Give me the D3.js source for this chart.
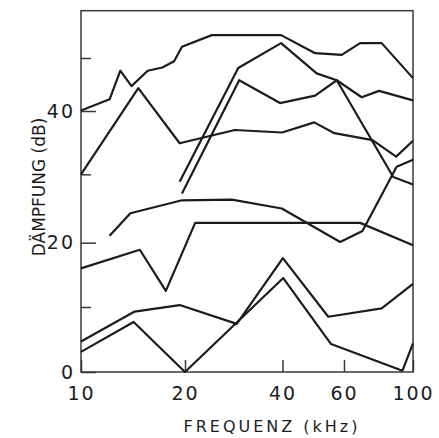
<!DOCTYPE html>
<html>
<head>
<meta charset="utf-8">
<script src="https://cdn.jsdelivr.net/npm/d3@7"></script>
<style>
    body { margin: 0; background: #fff; }
</style>
</head>
<body>
<script>
// #region DATA
// each curve: [frequency (kHz), attenuation (dB)]
var curveA = [[10, 40.1], [12.1, 42.2], [13, 47.6], [14, 44.7], [15.6, 47.6], [17.2, 48.2], [18.6, 49.4],
    [19.6, 52.1], [24.2, 54.3], [39.6, 54.3], [49.6, 50.9], [59.1, 50.6], [67.6, 52.8], [79.3, 52.8], [100, 46.2]];
var curveB = [[10, 30], [14.65, 44.3], [19.3, 34.9], [28.5, 37], [39.9, 36.6], [49.3, 38.2], [56.3, 36.5],
    [74.1, 35.4], [88.3, 32.8], [100, 35.3]];
var curveC1 = [[19.3, 28.9], [29.2, 48.1], [39.6, 52.8], [50.1, 47.1], [57.2, 45.8], [68.4, 42.6], [77.8, 43.8], [100, 42]];
var curveC2 = [[19.6, 27.2], [29.4, 45.8], [39.3, 41.5], [49.6, 42.9], [57.2, 45.8], [86.4, 29.6], [100, 28.5]];
var curveD = [[10, 16], [14.8, 18.9], [17.6, 12.5], [21.5, 22.9], [67.6, 22.9], [100, 19.6]];
var curveE = [[12.1, 21], [13.9, 24.3], [19.6, 26.2], [27.9, 26.3], [39.8, 25], [58.5, 20.1], [68.8, 21.7],
    [88.6, 31.2], [100, 32.3]];
var curveF = [[10, 4.7], [14.3, 9.3], [19.3, 10.3], [28.9, 7.4], [40.1, 17.6], [54.1, 8.5], [79.3, 9.8], [100, 13.6]];
var curveG = [[10, 3.1], [14.2, 7.7], [20, 0], [40.2, 14.5], [55.1, 4.3], [92.5, 0.2], [100, 4.4]];

var curves = [curveA, curveB, curveC1, curveC2, curveD, curveE, curveF, curveG];

var xTicks = [10, 20, 40, 60, 100];
var yLabelTicks = [0, 20, 40];
var yMinorTicks = [10, 30, 50];
// #endregion

// #region SETUP
var svg = d3.select("body")
    .append("svg")
    .attr("width", 439)
    .attr("height", 438);

// the scan is slightly stretched, so the scales follow its printed tick positions
var x = d3.scaleLog()
    .domain([10, 20, 40, 60, 100])
    .range([81, 185, 282.5, 344, 413]);

var y = d3.scaleLinear()
    .domain([0, 10, 20, 30, 40, 50, 58.9])
    .range([372, 307, 242.7, 174.3, 111, 58, 10.7]);

var fontFam = "'DejaVu Sans', sans-serif";
var ink = "#1c1c1c";
// #endregion

// #region AXES
// frame
svg.append("rect")
    .attr("x", x(10))
    .attr("y", y(58.9))
    .attr("width", x(100) - x(10))
    .attr("height", y(0) - y(58.9))
    .attr("fill", "none")
    .attr("stroke", "#3a3a3a")
    .attr("stroke-width", 1.5);

var xAxis = svg.append("g")
    .attr("transform", "translate(0," + y(0) + ")")
    .call(d3.axisBottom(x)
        .tickValues(xTicks)
        .tickSize(-12)
        .tickPadding(15)
        .tickFormat(d3.format("d")));

var yAxis = svg.append("g")
    .attr("transform", "translate(" + x(10) + ",0)")
    .call(d3.axisLeft(y)
        .tickValues(yLabelTicks)
        .tickSize(-15)
        .tickPadding(6)
        .tickFormat(d3.format("d")));

var yMinor = svg.append("g")
    .attr("transform", "translate(" + x(10) + ",0)")
    .call(d3.axisLeft(y)
        .tickValues(yMinorTicks)
        .tickSize(-10)
        .tickFormat(""));

[xAxis, yAxis, yMinor].forEach(function(ax) {
    ax.select(".domain").remove();
    ax.selectAll(".tick line")
        .attr("stroke", "#3a3a3a")
        .attr("stroke-width", 1.5);
    ax.selectAll(".tick text")
        .attr("fill", ink)
        .style("font-family", fontFam)
        .style("font-size", "19px")
        .style("letter-spacing", "2px");
});

// axis titles
svg.append("text")
    .text("FREQUENZ (kHz)")
    .attr("x", 272)
    .attr("y", 432)
    .attr("text-anchor", "middle")
    .attr("fill", ink)
    .style("font-family", fontFam)
    .style("font-size", "16px")
    .style("letter-spacing", "3px");

svg.append("text")
    .text("DÄMPFUNG (dB)")
    .attr("transform", "translate(45,187) rotate(-90)")
    .attr("text-anchor", "middle")
    .attr("fill", ink)
    .style("font-family", fontFam)
    .style("font-size", "17px");
// #endregion

// #region CURVES
var line = d3.line()
    .x(d => x(d[0]))
    .y(d => y(d[1]));

svg.append("g")
    .attr("id", "curves")
    .selectAll("path")
    .data(curves)
    .enter()
    .append("path")
        .attr("d", line)
        .attr("fill", "none")
        .attr("stroke", ink)
        .attr("stroke-width", 2.2)
        .attr("stroke-linejoin", "round");
// #endregion
</script>
</body>
</html>
